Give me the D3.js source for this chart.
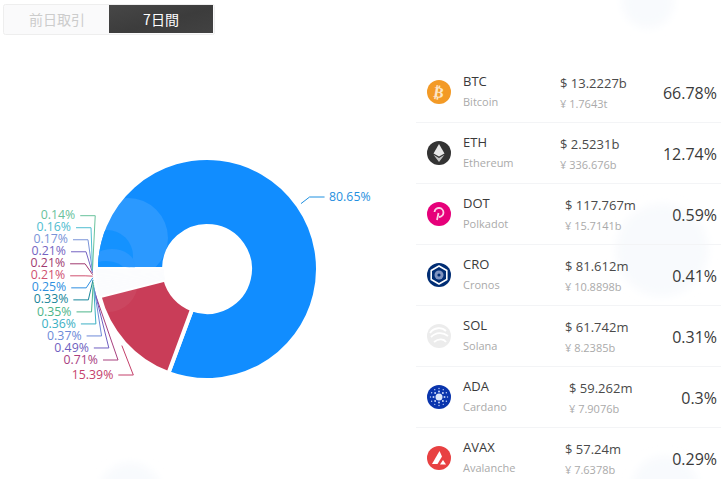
<!DOCTYPE html>
<html>
<head>
<meta charset="utf-8">
<script src="https://cdn.jsdelivr.net/npm/d3@7/dist/d3.min.js"></script>
<style>
    html, body { margin: 0; padding: 0; background: #fff; overflow: hidden; }
    text { font-family: "Open Sans", "Noto Sans", sans-serif; }
    .tab { font-family: "Noto Sans CJK JP", sans-serif; font-size: 14px; }
</style>
</head>
<body>
<div id="chart"></div>
<script>
// pie shares, in drawing order (clockwise from 9 o'clock)
const pieShares = [80.65, 15.39, 0.71, 0.49, 0.37, 0.36, 0.35, 0.33, 0.25, 0.21, 0.21, 0.21, 0.17, 0.16, 0.14];
const pieColors = ["#118dff", "#c93d58", "#a8407f", "#6f5fc0", "#6d8ad8", "#3bb0c4", "#4db58a", "#17859a",
    "#2f8fe0", "#d0506f", "#a03a70", "#7564c2", "#7a94d8", "#4fbdd0", "#68c29c"];
const labelColors = ["#1f90e0", "#c4406a", "#a8407f", "#6f5fc0", "#6d8ad8", "#3bb0c4", "#4db58a", "#17859a",
    "#2f8fe0", "#d0506f", "#a03a70", "#7564c2", "#7a94d8", "#4fbdd0", "#68c29c"];

// table on the right
const tickers = ["BTC", "ETH", "DOT", "CRO", "SOL", "ADA", "AVAX"];
const coinNames = ["Bitcoin", "Ethereum", "Polkadot", "Cronos", "Solana", "Cardano", "Avalanche"];
const usdValues = ["13.2227b", "2.5231b", "117.767m", "81.612m", "61.742m", "59.262m", "57.24m"];
const cnyValues = ["1.7643t", "336.676b", "15.7141b", "10.8898b", "8.2385b", "7.9076b", "7.6378b"];
const coinShares = ["66.78%", "12.74%", "0.59%", "0.41%", "0.31%", "0.3%", "0.29%"];
const coinColors = ["#f39a26", "#333333", "#e6007a", "#002d74", "#ececec", "#0a35ad", "#e84142"];

const tabLabels = ["前日取引", "7日間"];

const width = 721, height = 479;
const svg = d3.select("#chart").append("svg")
    .attr("width", width).attr("height", height)
    .style("display", "block");
const defs = svg.append("defs");

// faint background blobs
defs.append("filter").attr("id", "soft").append("feGaussianBlur").attr("stdDeviation", 5);
const blobs = svg.append("g").attr("fill", "#f8fafd").attr("filter", "url(#soft)");
blobs.append("circle").attr("cx", 662).attr("cy", 250).attr("r", 46);
blobs.append("circle").attr("cx", 130).attr("cy", 495).attr("r", 32);
blobs.append("circle").attr("cx", 648).attr("cy", 2).attr("r", 26);
blobs.append("circle").attr("cx", 665).attr("cy", 490).attr("r", 34);

// tabs
const tabFill = defs.append("linearGradient").attr("id", "tab-dark").attr("x1", 0).attr("x2", 1).attr("y1", 0).attr("y2", 1);
tabFill.append("stop").attr("offset", "0%").attr("stop-color", "#474747");
tabFill.append("stop").attr("offset", "55%").attr("stop-color", "#3c3c3c");
tabFill.append("stop").attr("offset", "100%").attr("stop-color", "#424242");
const tabs = svg.append("g");
tabs.append("rect").attr("x", 3.5).attr("y", 4.5).attr("width", 211).attr("height", 30).attr("rx", 2)
    .attr("fill", "#fafafb").attr("stroke", "#eeeeee");
tabs.append("rect").attr("x", 109).attr("y", 5).attr("width", 104).attr("height", 28).attr("fill", "url(#tab-dark)");
tabs.selectAll("text").data(tabLabels).enter().append("text")
    .attr("class", "tab")
    .attr("x", (d, i) => i === 0 ? 57 : 161)
    .attr("y", 25)
    .attr("text-anchor", "middle")
    .attr("fill", (d, i) => i === 0 ? "#cccccc" : "#ffffff")
    .text(d => d);

// donut
const cx = 207, cy = 269, outerR = 111, innerR = 43;
const pie = d3.pie().sort(null).startAngle(-Math.PI / 2).endAngle(Math.PI * 1.5);
const arc = d3.arc().innerRadius(innerR).outerRadius(outerR);
const arcs = pie(pieShares);
const gPie = svg.append("g").attr("transform", `translate(${cx},${cy})`);

gPie.selectAll("path").data(arcs).enter().append("path")
    .attr("d", arc)
    // only the two big slices are solid, the rest are washed out in the picture
    .attr("fill", (d, i) => i < 2 ? pieColors[i] : "#fbfcfe")
    .attr("stroke", (d, i) => i < 2 ? "#ffffff" : "none")
    .attr("stroke-width", 4);

// sheen on the two big slices
defs.append("clipPath").attr("id", "clip-blue").append("path").attr("d", d3.arc().innerRadius(45).outerRadius(109).startAngle(arcs[0].startAngle + 0.025).endAngle(arcs[0].endAngle));
defs.append("clipPath").attr("id", "clip-red").append("path").attr("d", d3.arc().innerRadius(45).outerRadius(109).startAngle(arcs[1].startAngle).endAngle(arcs[1].endAngle - 0.02));
const sheenBlue = gPie.append("g").attr("clip-path", "url(#clip-blue)");
sheenBlue.append("circle").attr("cx", 128 - cx).attr("cy", 238 - cy).attr("r", 40).attr("fill", "#ffffff").attr("opacity", 0.11);
sheenBlue.append("circle").attr("cx", 107 - cx).attr("cy", 256 - cy).attr("r", 26).attr("fill", "#1492ff");
sheenBlue.append("ellipse").attr("cx", 112 - cx).attr("cy", 266 - cy).attr("rx", 23).attr("ry", 17).attr("fill", "#2a98ff");
sheenBlue.append("ellipse").attr("cx", 106 - cx).attr("cy", 270 - cy).attr("rx", 18).attr("ry", 9).attr("fill", "#1492ff");
const sheenRed = gPie.append("g").attr("clip-path", "url(#clip-red)");
sheenRed.append("circle").attr("cx", 108 - cx).attr("cy", 282 - cy).attr("r", 30).attr("fill", "#ffffff").attr("opacity", 0.05);

// label rows, the small slices stack up the left side
const rowY = d3.scaleLinear().domain([2, 14]).range([360, 215.7]);
const lineR = 114.5;

function labelLayout(d, i) {
    const mid = (d.startAngle + d.endAngle) / 2;
    const ax = Math.sin(mid) * lineR, ay = -Math.cos(mid) * lineR;
    let y;
    if (i === 0) y = 197 - cy;
    else if (i === 1) y = 375 - cy;
    else y = rowY(i) - cy;
    const side = i === 0 ? 1 : -1;
    const ex = side * 122 * Math.sqrt(1 - (y / 133) * (y / 133));
    return { ax, ay, ex, y, side };
}

const gLabels = gPie.append("g");
arcs.forEach((d, i) => {
    const l = labelLayout(d, i);
    const hx = l.ex + l.side * 15;
    gLabels.append("path")
        .attr("d", d3.line()([[l.ax, l.ay], [l.ex, l.y], [hx, l.y]]))
        .attr("fill", "none")
        .attr("stroke", labelColors[i])
        .attr("stroke-width", 1);
    gLabels.append("text")
        .attr("x", hx + l.side * (l.side > 0 ? 4.5 : 5))
        .attr("y", l.y - 0.7)
        .attr("dy", "0.35em")
        .attr("text-anchor", l.side > 0 ? "start" : "end")
        .attr("font-size", 12.3)
        .attr("fill", labelColors[i])
        .text(d.data.toFixed(2) + "%");
});

// table
const rowPitch = 61, firstRowY = 92;
const priceX = [560, 560, 565, 565, 565, 569, 565];
const rows = svg.append("g").selectAll("g").data(tickers).enter().append("g")
    .attr("transform", (d, i) => `translate(0,${firstRowY + i * rowPitch})`);

rows.filter((d, i) => i < tickers.length - 1).append("line")
    .attr("x1", 416).attr("x2", 721).attr("y1", 30.5).attr("y2", 30.5)
    .attr("stroke", "#f3f4f6");

rows.append("circle").attr("cx", 439).attr("cy", 0).attr("r", 12).attr("fill", (d, i) => coinColors[i]);
rows.append("text").attr("x", 463).attr("y", -6).attr("font-size", 13).attr("fill", "#3a3a3a").text(d => d);
rows.append("text").attr("x", 463).attr("y", 14).attr("font-size", 11).attr("fill", "#aaaaaa").text((d, i) => coinNames[i]);
rows.append("text").attr("x", (d, i) => priceX[i]).attr("y", -4).attr("font-size", 13).attr("fill", "#4a4a4a").text((d, i) => "$ " + usdValues[i]);
rows.append("text").attr("x", (d, i) => priceX[i]).attr("y", 16).attr("font-size", 11).attr("fill", "#aaaaaa").text((d, i) => "¥ " + cnyValues[i]);
rows.append("text").attr("x", 717).attr("y", 7).attr("text-anchor", "end").attr("font-size", 16).attr("fill", "#3a3a3a").text((d, i) => coinShares[i]);

// coin glyphs
const glyphs = rows.append("g").attr("transform", "translate(439,0)");
glyphs.each(function(d) {
    const g = d3.select(this);
    if (d === "BTC") {
        g.append("text").attr("text-anchor", "middle").attr("y", 5.5).attr("font-size", 15).attr("font-weight", 700)
            .style("font-family", "'DejaVu Sans'")
            .attr("fill", "#fde6c8").attr("transform", "rotate(10)").text("₿");
    } else if (d === "ETH") {
        g.append("path").attr("d", "M0,-9L5.5,0.5L0,3.5L-5.5,0.5Z").attr("fill", "#e8e8e8");
        g.append("path").attr("d", "M0,5L5.5,1.8L0,9L-5.5,1.8Z").attr("fill", "#c4c4c4");
    } else if (d === "DOT") {
        g.append("path").attr("d", "M-2,6L-0.5,-1M-4.5,-2A4.5,4.5 0 1 1 0,3")
            .attr("fill", "none").attr("stroke", "#fbd0e6").attr("stroke-width", 1.8);
    } else if (d === "CRO") {
        g.append("path").attr("d", "M0,-9L7.8,-4.5L7.8,4.5L0,9L-7.8,4.5L-7.8,-4.5Z")
            .attr("fill", "none").attr("stroke", "#fff").attr("stroke-width", 1.6).attr("stroke-linejoin", "round");
        g.append("circle").attr("r", 4.5).attr("fill", "#7f93c0");
        g.append("circle").attr("r", 1.6).attr("fill", "#002d74");
    } else if (d === "SOL") {
        g.append("path").attr("d", "M-9,-3C-5,-9 3,-9 7,-5M-8,1C-3,-4 4,-4 9,0M-5,6C0,2 5,3 7,6")
            .attr("fill", "none").attr("stroke", "#ffffff").attr("stroke-width", 1.8);
    } else if (d === "ADA") {
        g.append("circle").attr("r", 3.5).attr("fill", "#dfe8fb");
        [[5.5, 8, 1], [8.5, 12, 0.7]].forEach(ring => {
            d3.range(ring[1]).forEach(k => {
                const a = k / ring[1] * 2 * Math.PI;
                g.append("circle").attr("cx", ring[0] * Math.cos(a)).attr("cy", ring[0] * Math.sin(a))
                    .attr("r", ring[2]).attr("fill", "#c8d6f8");
            });
        });
    } else if (d === "AVAX") {
        g.append("path").attr("d", "M0.5,-7L-7,6L-1.5,6L3,-1.5Z").attr("fill", "#fff");
        g.append("path").attr("d", "M4,2L1,6.5L7,6.5Z").attr("fill", "#fff");
    }
});
</script>
</body>
</html>
